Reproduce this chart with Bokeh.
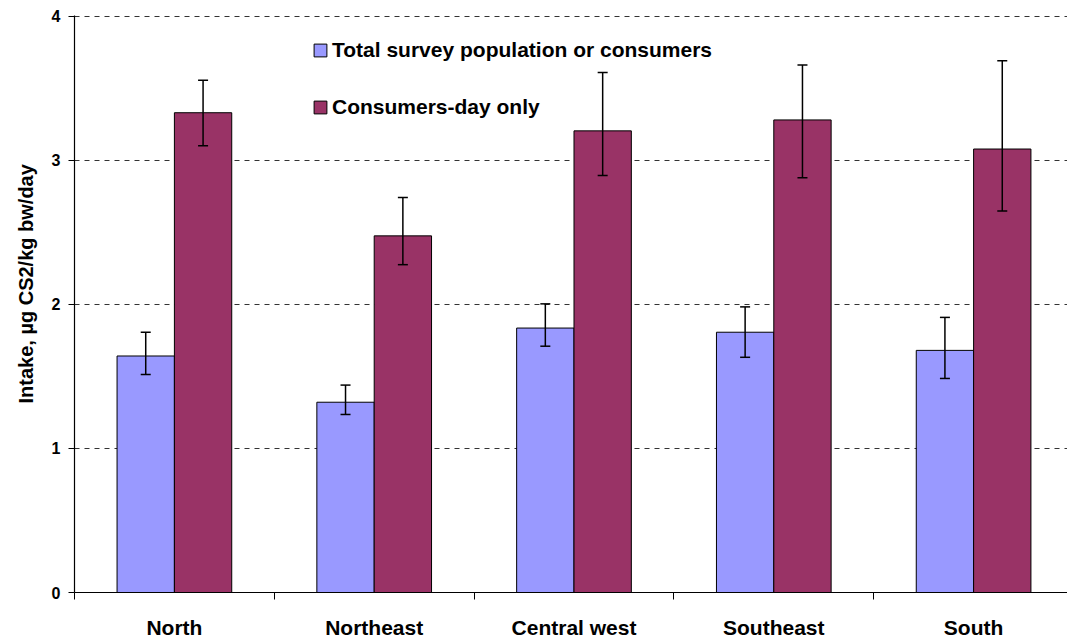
from bokeh.plotting import figure
from bokeh.models import (ColumnDataSource, FixedTicker, Range1d, Whisker, TeeHead,
                          Legend, LegendItem, Title)
from bokeh.embed import file_html
from bokeh.resources import INLINE

# Regions and intake estimates (µg CS2/kg bw/day)
regions = ["North", "Northeast", "Central west", "Southeast", "South"]
total_mean = [1.642, 1.321, 1.836, 1.807, 1.681]
total_upper = [1.807, 1.440, 2.004, 1.983, 1.910]
total_lower = [1.513, 1.236, 1.710, 1.633, 1.486]
cons_mean = [3.331, 2.476, 3.205, 3.281, 3.079]
cons_upper = [3.556, 2.742, 3.611, 3.662, 3.691]
cons_lower = [3.102, 2.276, 2.895, 2.880, 2.648]
y_ticks = [0, 1, 2, 3, 4]

FONT = "Liberation Sans"
BAR_W = 0.287
centres = [i + 0.5 for i in range(len(regions))]

src_total = ColumnDataSource(dict(
    x=[c - BAR_W / 2 for c in centres], top=total_mean,
    upper=total_upper, lower=total_lower))
src_cons = ColumnDataSource(dict(
    x=[c + BAR_W / 2 for c in centres], top=cons_mean,
    upper=cons_upper, lower=cons_lower))

# a hair of headroom above 4 keeps the top grid line inside the frame
p = figure(width=1067, height=641, output_backend="svg", toolbar_location=None,
           x_range=Range1d(0, 4.97), y_range=Range1d(0, 4.006),
           min_border_left=73, min_border_right=0, min_border_top=15,
           min_border_bottom=0)
p.outline_line_color = None
p.background_fill_color = "white"
p.border_fill_color = "white"

r_total = p.vbar(x="x", top="top", width=BAR_W, source=src_total,
                 fill_color="#9999FF", line_color="black", line_width=1)
r_cons = p.vbar(x="x", top="top", width=BAR_W, source=src_cons,
                fill_color="#993366", line_color="black", line_width=1)

for src in (src_total, src_cons):
    w = Whisker(base="x", upper="upper", lower="lower", source=src, level="overlay",
                line_color="black", line_width=1.5,
                upper_head=TeeHead(size=10, line_color="black", line_width=1.5),
                lower_head=TeeHead(size=10, line_color="black", line_width=1.5))
    p.add_layout(w)

# x axis: region names at category centres, tick marks at category boundaries
xa = p.xaxis[0]
xa.ticker = FixedTicker(ticks=centres, minor_ticks=[0, 1, 2, 3, 4, 5])
xa.major_label_overrides = {c: r for c, r in zip(centres, regions)}
xa.major_tick_out = 0
xa.major_tick_in = 0
xa.minor_tick_out = 7
xa.minor_tick_in = 0
xa.minor_tick_line_color = "black"
xa.axis_line_color = "black"
xa.axis_line_width = 1.2
xa.major_label_text_font = FONT
xa.major_label_text_font_style = "bold"
xa.major_label_text_font_size = "21px"
xa.major_label_text_color = "black"
xa.major_label_standoff = 16

ya = p.yaxis[0]
ya.ticker = FixedTicker(ticks=y_ticks)
ya.minor_tick_line_color = None
ya.major_tick_out = 6
ya.major_tick_in = 0
ya.major_tick_line_color = "black"
ya.axis_line_color = "black"
ya.axis_line_width = 1.2
ya.major_label_text_font = FONT
ya.major_label_text_font_style = "bold"
ya.major_label_text_font_size = "16px"
ya.major_label_text_color = "black"
ya.major_label_standoff = 8

p.xgrid.grid_line_color = None
p.ygrid.grid_line_color = "#333333"
p.ygrid.grid_line_dash = "5 5"
p.ygrid.grid_line_width = 1.2

p.add_layout(Title(text="Intake, µg CS2/kg bw/day", align="left", offset=189,
                   text_font=FONT, text_font_style="bold", text_font_size="20px",
                   text_color="black", standoff=24), "left")

legend = Legend(items=[
    LegendItem(label="Total survey population or consumers", renderers=[r_total]),
    LegendItem(label="Consumers-day only", renderers=[r_cons]),
], location=(238, 473), orientation="vertical",
    glyph_width=16, glyph_height=16, label_height=24, label_standoff=4,
    spacing=33, padding=0, margin=0, border_line_color=None,
    background_fill_alpha=0,
    label_text_font=FONT, label_text_font_style="bold",
    label_text_font_size="21px", label_text_color="black")
p.add_layout(legend)

open("out.html", "w").write(file_html(p, INLINE))
